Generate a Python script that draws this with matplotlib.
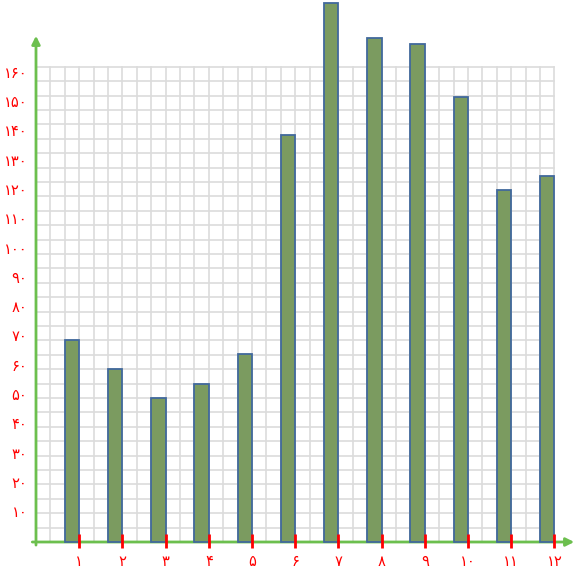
import matplotlib
matplotlib.use("Agg")
import matplotlib.pyplot as plt

# data
months = list(range(1, 13))
values = [69, 59, 49, 54, 64, 139, 184, 172, 170, 152, 120, 125]
y_ticks = [10, 20, 30, 40, 50, 60, 70, 80, 90, 100, 110, 120, 130, 140, 150, 160]

PERSIAN = str.maketrans("0123456789", "۰۱۲۳۴۵۶۷۸۹")

def fa(n):
    return str(n).translate(PERSIAN)

# layout in pixels
W, H = 580, 567
x0_px, y0_px = 36, 542      # origin (from left / from top)
cell = 14.4                 # grid cell in px
ppu = 2.93                  # px per value unit
n_cols, n_rows = 36, 33

fig = plt.figure(figsize=(W / 100, H / 100), dpi=100)
ax = fig.add_axes([0, 0, 1, 1])
ax.set_xlim(-x0_px / cell, (W - x0_px) / cell)
ax.set_ylim(-(H - y0_px) / ppu, y0_px / ppu)
ax.axis("off")

grid_c = "#dcdcdc"
green = "#6cbf4e"
row_h = cell / ppu
top = n_rows * row_h
for i in range(n_cols + 1):
    ax.plot([i, i], [0, top], color=grid_c, lw=1.2, zorder=1)
for j in range(n_rows + 1):
    ax.plot([0, n_cols], [j * row_h, j * row_h], color=grid_c, lw=1.2, zorder=1)

# axes with arrows
ax.annotate("", xy=(0, (y0_px - 33) / ppu), xytext=(0, -2),
            arrowprops=dict(arrowstyle="-|>", color=green, lw=2, mutation_scale=12),
            zorder=2)
ax.annotate("", xy=((577 - x0_px) / cell, 0), xytext=(-0.45, 0),
            arrowprops=dict(arrowstyle="-|>", color=green, lw=2, mutation_scale=12),
            zorder=2)

pos = [3 * m for m in months]
ax.bar([p - 0.5 for p in pos], values, width=1, color="#7b9b60",
       edgecolor="#41699c", lw=1.3, zorder=3)

for p, m in zip(pos, months):
    ax.plot([p, p], [-2, 2.7], color="red", lw=2, solid_capstyle="butt", zorder=4)
    ax.text(p, -6.5, fa(m), color="red", fontsize=10.5, ha="center", va="center",
            family="DejaVu Sans")

for t in y_ticks:
    ax.text(-0.6, t, fa(t), color="red", fontsize=10.5, ha="right", va="center",
            family="DejaVu Sans")

fig.savefig("out.png", dpi=100)
